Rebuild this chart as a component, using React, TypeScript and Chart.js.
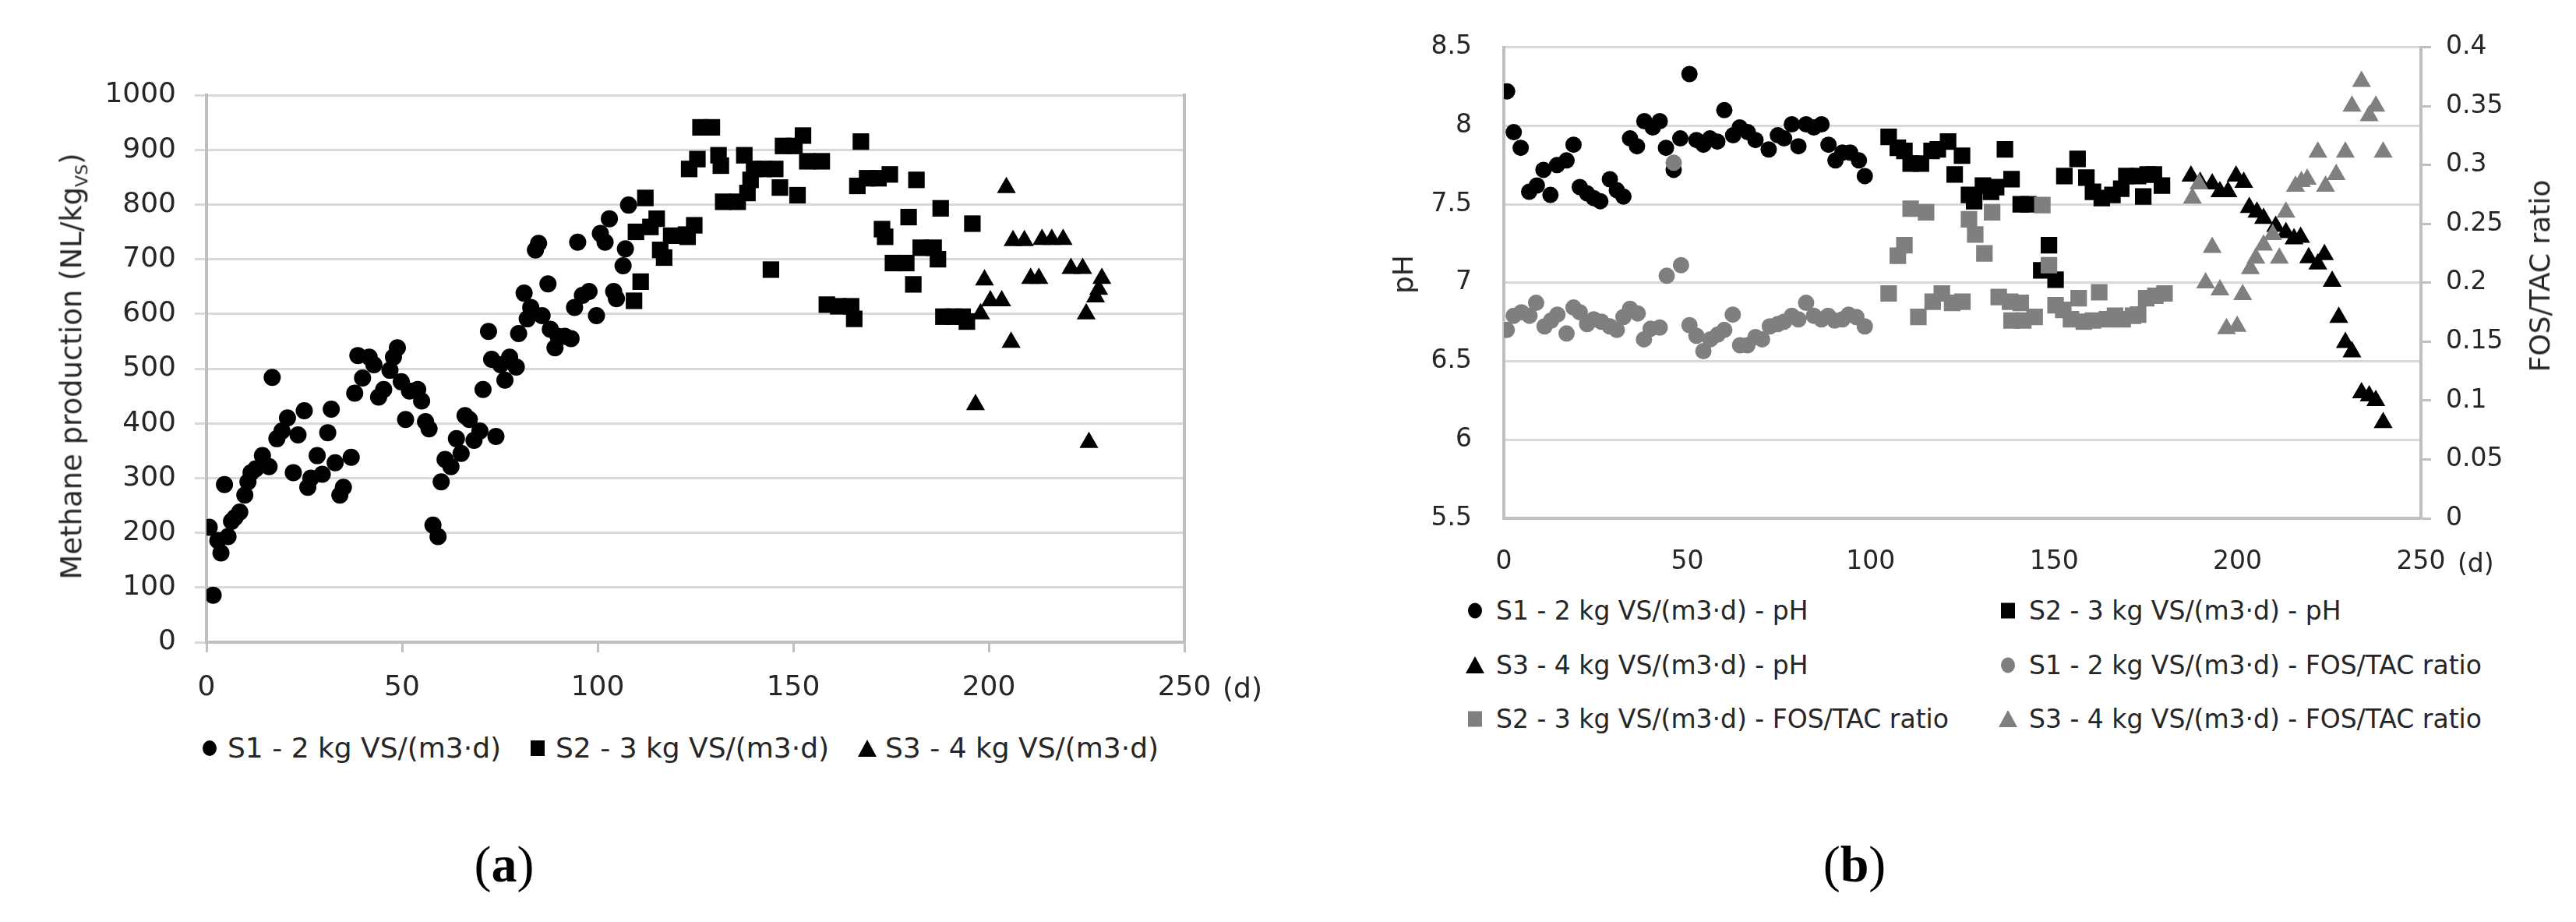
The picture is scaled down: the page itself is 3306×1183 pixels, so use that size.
import { useEffect, useRef } from 'react'
import { Chart, registerables } from 'chart.js'

Chart.register(...registerables)

const FONT = '"DejaVu Sans", Verdana, sans-serif'
const INK = '#262626'
const GRID = '#d9d9d9'
const AXIS = '#bfbfbf'
const GREY = '#7f7f7f'

const LEG_A = ['S1 - 2 kg VS/(m3·d)', 'S2 - 3 kg VS/(m3·d)', 'S3 - 4 kg VS/(m3·d)']

// (a) methane production, NL/kgVS
const A_S1_DAY = [0.7, 1.7, 2.9, 3.7, 4.6, 5.5, 6.4, 7.3, 8.5, 9.8, 10.6, 11.4, 12.6, 14.3, 16, 16.8, 18, 19.3, 20.7, 22.2, 23.4, 25, 25.9, 26.7, 28.3, 29.6, 31, 31.9, 32.9, 34.1, 35, 37, 37.9, 38.7, 39.9, 41.6, 42.8, 44, 45.3, 46.9, 47.8, 48.8, 49.8, 50.9, 51.9, 54, 55, 56, 56.9, 57.9, 59.2, 60, 61, 62.5, 63.9, 65.1, 66.1, 67.2, 68.4, 69.9, 70.7, 72.1, 72.9, 74, 75.2, 76.3, 77.5, 79.2, 79.8, 81.2, 82, 82.9, 84.1, 84.9, 85.8, 87.3, 87.9, 89.1, 89.9, 91.6, 93.2, 94.1, 94.9, 96.1, 97.8, 99.7, 100.7, 101.9, 103, 104.1, 104.8, 106.5, 107.1, 107.9]
const A_S1_CH4 = [210, 86, 186, 163, 288, 193, 221, 228, 238, 269, 293, 310, 317, 341, 321, 484, 372, 386, 410, 310, 379, 423, 283, 300, 341, 307, 383, 426, 328, 269, 283, 338, 455, 524, 483, 521, 507, 448, 462, 497, 521, 538, 476, 407, 459, 462, 441, 403, 390, 214, 193, 293, 334, 321, 372, 345, 414, 407, 369, 386, 462, 568, 517, 376, 507, 479, 521, 503, 564, 638, 591, 612, 717, 729, 597, 655, 572, 538, 559, 559, 555, 612, 731, 634, 641, 597, 747, 731, 774, 641, 628, 688, 719, 799]

const A_S2_DAY = [109.3, 109.8, 111, 112.2, 113.5, 115.1, 116, 117, 118.8, 122.6, 123, 123.4, 124.7, 125.5, 126.3, 129.2, 130.9, 131.5, 132.1, 135.8, 137.5, 138.3, 139.1, 140, 142.5, 144.3, 145.4, 146.6, 147.4, 150.3, 151.1, 152.5, 153.6, 157.3, 158.6, 161.5, 164.8, 165.6, 166.4, 167.3, 168.9, 171.8, 172.7, 173.5, 174.7, 175.5, 178.9, 179.5, 180.7, 181.5, 182.6, 185.9, 187, 187.7, 188.4, 190.9, 193.3, 194.4, 195.8]
const A_S2_CH4 = [624, 750, 659, 812, 759, 774, 717, 703, 743, 745, 741, 865, 762, 883, 941, 941, 890, 871, 805, 805, 890, 821, 845, 865, 865, 681, 865, 831, 907, 907, 817, 926, 879, 879, 617, 614, 614, 591, 834, 915, 848, 848, 755, 741, 855, 693, 693, 777, 654, 845, 721, 721, 700, 793, 595, 595, 595, 586, 765]

const A_S3_DAY = [196.6, 197.9, 198.9, 200.4, 203.3, 204.5, 205.7, 206.2, 209.1, 210.7, 212.8, 213.6, 216.1, 219, 221, 224, 224.9, 225.6, 227.3, 228.1, 228.9]
const A_S3_CH4 = [434, 600, 662, 624, 624, 831, 548, 734, 734, 665, 665, 736, 736, 736, 683, 683, 600, 365, 631, 645, 665]

// (b) pH (left axis) and FOS/TAC ratio (right axis)
const B_S1_PH_DAY = [0.9, 2.7, 4.6, 6.9, 9, 10.8, 12.7, 14.5, 17.1, 19, 20.7, 22.7, 24.5, 26.3, 28.9, 30.8, 32.6, 34.4, 36.3, 38.3, 40.6, 42.5, 44.2, 46.3, 48.1, 50.6, 52.5, 54.4, 56.2, 58.2, 60.1, 62.5, 64.3, 66.5, 68.6, 72.2, 74.7, 76.4, 78.5, 80.3, 82.4, 84.5, 86.6, 88.5, 90.4, 92.3, 94.4, 96.8, 98.4]
const B_S1_PH = [8.22, 7.96, 7.86, 7.58, 7.62, 7.72, 7.56, 7.75, 7.78, 7.88, 7.61, 7.57, 7.54, 7.52, 7.66, 7.59, 7.55, 7.92, 7.87, 8.03, 7.99, 8.03, 7.86, 7.72, 7.92, 8.33, 7.91, 7.88, 7.92, 7.9, 8.1, 7.94, 7.99, 7.96, 7.91, 7.85, 7.94, 7.92, 8.01, 7.87, 8.01, 7.99, 8.01, 7.88, 7.78, 7.83, 7.83, 7.78, 7.68]

const B_S2_PH_DAY = [104.9, 107.4, 109.2, 110.9, 113.7, 116.6, 118.3, 121.1, 122.9, 124.9, 126.8, 128.2, 130.6, 132.8, 134.2, 136.6, 138.4, 140.9, 143, 146.5, 148.6, 150.4, 152.8, 156.4, 158.8, 160.6, 163, 165.9, 168.3, 169.7, 172.9, 174.3, 175.5, 177.2, 179.4]
const B_S2_PH = [7.93, 7.86, 7.84, 7.76, 7.76, 7.84, 7.85, 7.9, 7.69, 7.81, 7.56, 7.52, 7.62, 7.58, 7.61, 7.85, 7.66, 7.5, 7.5, 7.08, 7.24, 7.02, 7.68, 7.79, 7.67, 7.58, 7.54, 7.56, 7.6, 7.68, 7.68, 7.55, 7.69, 7.69, 7.62]

const B_S3_PH_DAY = [187.3, 189.8, 193.1, 195.2, 197.4, 199.6, 201.7, 203.2, 205.3, 207.1, 210.4, 213.2, 215.4, 217.2, 219.4, 221.9, 223.7, 225.8, 227.6, 229.4, 231.2, 233.8, 235.9, 237.7, 239.7]
const B_S3_PH = [7.68, 7.64, 7.63, 7.58, 7.58, 7.68, 7.64, 7.48, 7.45, 7.41, 7.36, 7.32, 7.28, 7.29, 7.16, 7.12, 7.18, 7.01, 6.78, 6.62, 6.56, 6.3, 6.28, 6.25, 6.11]

const B_S1_FT_DAY = [0.8, 2.7, 4.8, 7, 8.8, 11.1, 12.9, 14.6, 17.1, 19, 20.7, 22.7, 24.5, 26.6, 28.9, 30.8, 32.6, 34.4, 36.5, 38.2, 40, 42.5, 44.4, 46.3, 48.3, 50.6, 52.5, 54.4, 56.3, 58.3, 60.1, 62.4, 64.4, 66.4, 68.6, 70.4, 72.5, 74.7, 76.4, 78.5, 80.3, 82.4, 84.5, 86.6, 88.4, 90.2, 92.3, 94, 96.1, 98.4]
const B_S1_FT = [0.16, 0.172, 0.175, 0.172, 0.183, 0.163, 0.168, 0.173, 0.157, 0.179, 0.175, 0.165, 0.169, 0.167, 0.163, 0.16, 0.171, 0.178, 0.174, 0.152, 0.161, 0.162, 0.206, 0.302, 0.215, 0.164, 0.155, 0.142, 0.152, 0.156, 0.16, 0.173, 0.147, 0.147, 0.154, 0.152, 0.163, 0.165, 0.167, 0.172, 0.169, 0.183, 0.172, 0.169, 0.172, 0.168, 0.169, 0.173, 0.171, 0.163]

const B_S2_FT_DAY = [104.9, 107.4, 109.2, 110.9, 113, 115.1, 116.9, 119.4, 122.2, 125, 126.8, 128.5, 131, 133.1, 134.9, 138, 138.4, 140.9, 141.6, 144.7, 146.8, 148.6, 150.4, 152.5, 154.6, 156.7, 158.1, 160.6, 162.3, 164.4, 166.6, 168.7, 171.5, 172.9, 175.1, 177.6, 180.1]
const B_S2_FT = [0.191, 0.223, 0.232, 0.263, 0.171, 0.26, 0.184, 0.191, 0.183, 0.184, 0.254, 0.241, 0.225, 0.26, 0.188, 0.184, 0.168, 0.183, 0.168, 0.171, 0.266, 0.215, 0.181, 0.177, 0.169, 0.187, 0.167, 0.168, 0.192, 0.169, 0.172, 0.169, 0.172, 0.173, 0.187, 0.189, 0.191]

const B_S3_FT_DAY = [187.7, 189.5, 191.3, 193.1, 195.2, 197, 199.9, 201.4, 203.5, 205, 207.1, 209.6, 211.4, 213.2, 215.8, 217.4, 219, 221.9, 224, 226.9, 229.4, 231.2, 233.8, 235.9, 237.7, 239.7]
const B_S3_FT = [0.272, 0.284, 0.2, 0.23, 0.194, 0.161, 0.163, 0.19, 0.212, 0.221, 0.232, 0.241, 0.221, 0.26, 0.282, 0.286, 0.288, 0.311, 0.282, 0.292, 0.311, 0.35, 0.371, 0.342, 0.35, 0.311]

const pts = (xs: number[], ys: number[]) => xs.map((x, i) => ({ x, y: ys[i] }))

const fontA = { family: FONT, size: 36 }
const fontB = { family: FONT, size: 33 }
// excel style: 1000, 8, 7.5, 0.35
const plain = (v: any) => `${+(+v).toFixed(2)}`

function MethaneChart() {
  const ref = useRef<HTMLCanvasElement>(null)

  useEffect(() => {
    if (!ref.current) return
    const mark = (color: string, style: any, r: number) => ({
      pointStyle: style,
      pointRadius: r,
      backgroundColor: color,
      borderColor: color,
      borderWidth: 0,
      showLine: false,
    })
    const chart = new Chart(ref.current, {
      type: 'scatter',
      data: {
        datasets: [
          { label: LEG_A[0], data: pts(A_S1_DAY, A_S1_CH4), ...mark('#000', 'circle', 11) },
          { label: LEG_A[1], data: pts(A_S2_DAY, A_S2_CH4), ...mark('#000', 'rect', 15) },
          { label: LEG_A[2], data: pts(A_S3_DAY, A_S3_CH4), ...mark('#000', 'triangle', 14) },
        ],
      },
      options: {
        animation: false,
        responsive: true,
        maintainAspectRatio: false,
        devicePixelRatio: 1,
        layout: { padding: { top: 122, right: 80, bottom: 0, left: 0 } },
        plugins: { legend: { display: false }, tooltip: { enabled: false } },
        scales: {
          x: {
            type: 'linear',
            min: 0,
            max: 250,
            ticks: { stepSize: 50, font: fontA, color: INK, padding: 24, callback: plain },
            grid: { drawOnChartArea: false, tickLength: 13, tickWidth: 3, tickColor: AXIS },
            border: { color: AXIS, width: 4 },
            afterFit: (s: any) => { s.height = 76 },
          },
          y: {
            min: 0,
            max: 1000,
            ticks: { stepSize: 100, font: fontA, color: INK, padding: 24, callback: plain },
            grid: { color: GRID, lineWidth: 3, tickLength: 15 },
            border: { color: AXIS, width: 4 },
            afterFit: (s: any) => { s.width = 265 },
          },
          frame: {
            position: 'right',
            min: 0,
            max: 1000,
            ticks: { display: false },
            grid: { display: false },
            border: { color: AXIS, width: 4 },
            afterFit: (s: any) => { s.width = 0 },
          },
        },
      },
    })
    return () => chart.destroy()
  }, [])

  return (
    <div style={{ position: 'absolute', left: 0, top: 0, width: 1600, height: 900 }}>
      <canvas ref={ref} />
    </div>
  )
}

function PhChart() {
  const ref = useRef<HTMLCanvasElement>(null)

  useEffect(() => {
    if (!ref.current) return
    const mark = (color: string, style: any, r: number, axis: string, order: number) => ({
      pointStyle: style,
      pointRadius: r,
      backgroundColor: color,
      borderColor: color,
      borderWidth: 0,
      showLine: false,
      yAxisID: axis,
      order,
    })
    const chart = new Chart(ref.current, {
      type: 'scatter',
      data: {
        datasets: [
          { label: 'S1 - pH', data: pts(B_S1_PH_DAY, B_S1_PH), ...mark('#000', 'circle', 10.5, 'y', 1) },
          { label: 'S2 - pH', data: pts(B_S2_PH_DAY, B_S2_PH), ...mark('#000', 'rect', 15, 'y', 1) },
          { label: 'S3 - pH', data: pts(B_S3_PH_DAY, B_S3_PH), ...mark('#000', 'triangle', 14, 'y', 1) },
          { label: 'S1 - FOS/TAC', data: pts(B_S1_FT_DAY, B_S1_FT), ...mark(GREY, 'circle', 10.5, 'y2', 0) },
          { label: 'S2 - FOS/TAC', data: pts(B_S2_FT_DAY, B_S2_FT), ...mark(GREY, 'rect', 15, 'y2', 0) },
          { label: 'S3 - FOS/TAC', data: pts(B_S3_FT_DAY, B_S3_FT), ...mark(GREY, 'triangle', 14, 'y2', 0) },
        ],
      },
      options: {
        animation: false,
        responsive: true,
        maintainAspectRatio: false,
        devicePixelRatio: 1,
        layout: { padding: { top: 44, right: 0, bottom: 0, left: 0 } },
        plugins: { legend: { display: false }, tooltip: { enabled: false } },
        scales: {
          x: {
            type: 'linear',
            min: 0,
            max: 250,
            ticks: { stepSize: 50, font: fontB, color: INK, padding: 37, callback: plain },
            grid: { drawOnChartArea: false, drawTicks: false },
            border: { color: AXIS, width: 4 },
            afterFit: (s: any) => { s.height = 95 },
          },
          y: {
            min: 5.5,
            max: 8.5,
            ticks: { stepSize: 0.5, font: fontB, color: INK, padding: 41, callback: plain },
            grid: { color: GRID, lineWidth: 3, drawTicks: false },
            border: { color: AXIS, width: 4 },
            afterFit: (s: any) => { s.width = 280 },
          },
          y2: {
            position: 'right',
            min: 0,
            max: 0.4,
            ticks: { stepSize: 0.05, font: fontB, color: INK, padding: 19, callback: plain },
            grid: { drawOnChartArea: false, tickLength: 13, tickWidth: 3, tickColor: AXIS },
            border: { color: AXIS, width: 4 },
            afterFit: (s: any) => { s.width = 199 },
          },
        },
      },
    })
    return () => chart.destroy()
  }, [])

  return (
    <div style={{ position: 'absolute', left: 1650, top: 0, width: 1656, height: 760 }}>
      <canvas ref={ref} />
    </div>
  )
}

type Shape = 'circle' | 'square' | 'triangle'

function Marker({ shape, color }: { shape: Shape; color: string }) {
  const base: React.CSSProperties = { display: 'block', background: color }
  let m
  if (shape === 'circle') m = <span style={{ ...base, width: 18, height: 20, borderRadius: '50%' }} />
  else if (shape === 'square') m = <span style={{ ...base, width: 18, height: 20 }} />
  else m = <span style={{ ...base, width: 24, height: 22, clipPath: 'polygon(50% 0, 100% 100%, 0 100%)' }} />
  return <span style={{ width: 24, display: 'flex', justifyContent: 'center' }}>{m}</span>
}

const text: React.CSSProperties = {
  position: 'absolute',
  fontFamily: FONT,
  fontSize: 36,
  color: INK,
  lineHeight: 1,
  whiteSpace: 'nowrap',
}

function LegendItem({ x, y, gap, size, shape, color, label }: { x: number; y: number; gap: number; size: number; shape: Shape; color: string; label: string }) {
  return (
    <div style={{ ...text, fontSize: size, left: x - 12, top: y, transform: 'translateY(-50%)', display: 'flex', alignItems: 'center', gap }}>
      <Marker shape={shape} color={color} />
      <span>{label}</span>
    </div>
  )
}

function Label({ x, y, size, children, rotate }: { x: number; y: number; size: number; children: React.ReactNode; rotate?: boolean }) {
  const t = rotate ? 'translate(-50%,-50%) rotate(-90deg)' : 'translateY(-50%)'
  return <div style={{ ...text, left: x, top: y, transform: t, fontSize: size }}>{children}</div>
}

export default function App() {
  return (
    <div style={{ position: 'absolute', left: 0, top: 0, width: 3306, height: 1183, background: '#fff', overflow: 'hidden' }}>
      <MethaneChart />
      <PhChart />

      <Label x={95} y={470} size={37} rotate>
        Methane production (NL/kg<sub style={{ fontSize: 22 }}>VS</sub>)
      </Label>
      <Label x={1569} y={883} size={36}>(d)</Label>
      <LegendItem x={269} y={960} gap={11} size={36} shape="circle" color="#000" label={LEG_A[0]} />
      <LegendItem x={690} y={960} gap={11} size={36} shape="square" color="#000" label={LEG_A[1]} />
      <LegendItem x={1113} y={960} gap={11} size={36} shape="triangle" color="#000" label={LEG_A[2]} />

      <Label x={1801} y={352} size={36} rotate>pH</Label>
      <Label x={3260} y={354} size={36} rotate>FOS/TAC ratio</Label>
      <Label x={3154} y={722} size={33}>(d)</Label>
      <LegendItem x={1893} y={783} gap={15} size={33} shape="circle" color="#000" label="S1 - 2 kg VS/(m3·d) - pH" />
      <LegendItem x={2577} y={783} gap={15} size={33} shape="square" color="#000" label="S2 - 3 kg VS/(m3·d) - pH" />
      <LegendItem x={1893} y={853} gap={15} size={33} shape="triangle" color="#000" label="S3 - 4 kg VS/(m3·d) - pH" />
      <LegendItem x={2577} y={853} gap={15} size={33} shape="circle" color={GREY} label="S1 - 2 kg VS/(m3·d) - FOS/TAC ratio" />
      <LegendItem x={1893} y={922} gap={15} size={33} shape="square" color={GREY} label="S2 - 3 kg VS/(m3·d) - FOS/TAC ratio" />
      <LegendItem x={2577} y={922} gap={15} size={33} shape="triangle" color={GREY} label="S3 - 4 kg VS/(m3·d) - FOS/TAC ratio" />

      <div style={{ ...text, left: 647, top: 1109, transform: 'translate(-50%,-50%)', fontFamily: '"Liberation Serif", serif', fontSize: 66, color: '#000' }}>
        (<b>a</b>)
      </div>
      <div style={{ ...text, left: 2380, top: 1109, transform: 'translate(-50%,-50%)', fontFamily: '"Liberation Serif", serif', fontSize: 66, color: '#000' }}>
        (<b>b</b>)
      </div>
    </div>
  )
}
